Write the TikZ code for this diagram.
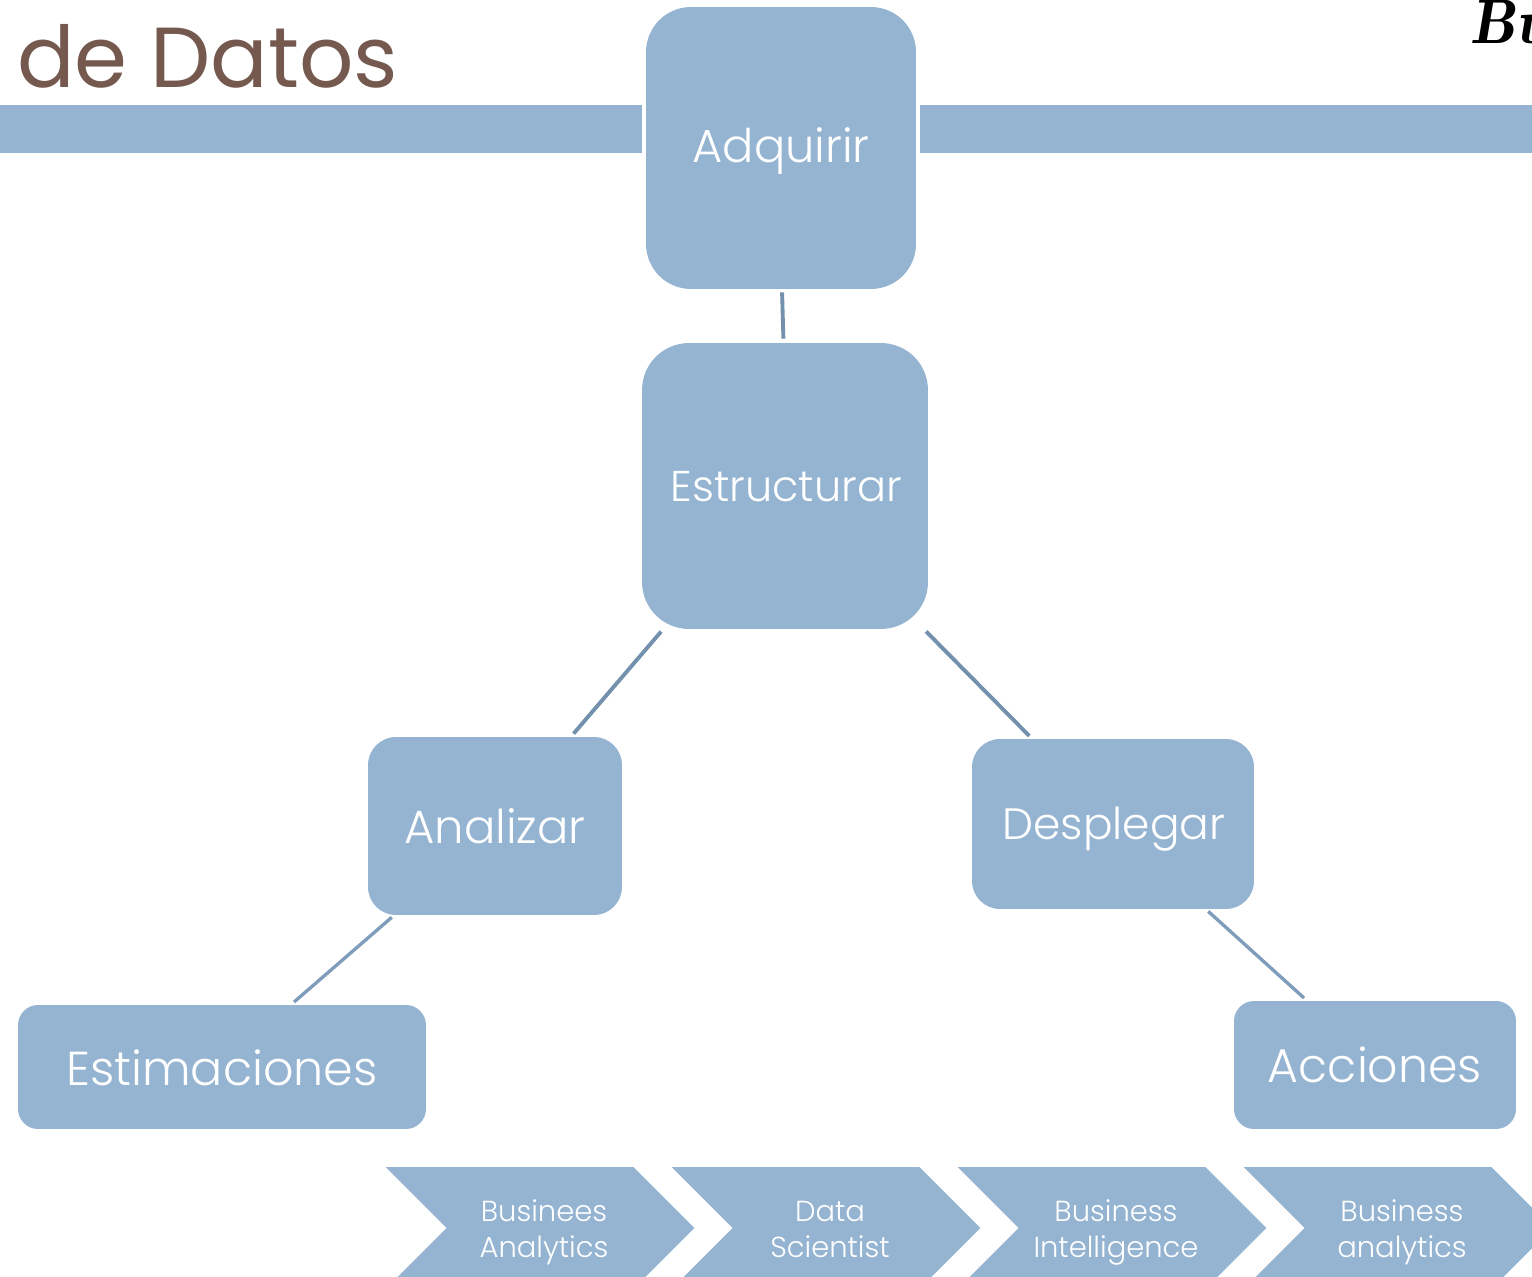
\documentclass[tikz,border=0pt]{standalone}
\usepackage{fontspec}
\setmainfont{Poppins}[UprightFont=* Light]
\newfontfamily\titlefont{Poppins}
\usepackage{xcolor}
\usetikzlibrary{shapes.symbols}
\definecolor{boxblue}{HTML}{95B4D2}
\definecolor{linkdark}{HTML}{7390AC}
\definecolor{linklight}{HTML}{7F9DBB}
\definecolor{titlebrown}{HTML}{75594E}
\tikzset{
  box/.style={fill=boxblue, text=white, inner sep=0pt, text depth=0pt},
  bar/.style={fill=boxblue, inner sep=0pt, minimum height=0.96cm},
  chevron/.style={signal, signal from=west, signal to=east, signal pointer angle=90, fill=boxblue, inner sep=0pt, minimum width=6.18cm, minimum height=2.44cm},
  chevlabel/.style={text=white, inner sep=0pt, align=center, xshift=0.08cm, text height=1.16cm, text depth=0pt, font=\fontsize{16.5}{20.4}\selectfont},
  link/.style={draw=linkdark, line width=2.2pt, shorten >=0.08cm, shorten <=0.06cm},
  linksoft/.style={draw=linklight, line width=1.9pt, shorten >=0.08cm, shorten <=0.06cm}
}
\begin{document}
\begin{tikzpicture}[x=0.02cm, y=-0.02cm]
  \clip (0,0) rectangle (1532,1277);
  \node[bar, minimum width=12.84cm] (barL) at (321,129) {};
  \node[bar, minimum width=12.24cm] (barR) at (1226,129) {};
  \node[text=titlebrown, anchor=base west, inner sep=0pt, font=\titlefont\fontsize{48.5}{58}\selectfont] (title) at (17,88) {de Datos};
  \node[anchor=base west, inner sep=0pt, font=\fontfamily{lmr}\fontsize{36}{40}\selectfont\bfseries\itshape] (brand) at (1470,44) {Bu};
  \node[box, rounded corners=0.9cm, minimum width=5.4cm, minimum height=5.64cm, text height=0.58cm, font=\fontsize{26.4}{32}\selectfont] (adquirir) at (781,148) {Adquirir};
  \node[box, rounded corners=0.94cm, minimum width=5.72cm, minimum height=5.72cm, text height=0.64cm, font=\fontsize{24.5}{32}\selectfont] (estructurar) at (785,486) {\hspace*{0.05cm}Estructurar};
  \node[box, rounded corners=0.56cm, minimum width=5.08cm, minimum height=3.56cm, text height=0.68cm, font=\fontsize{26.5}{32}\selectfont] (analizar) at (495,826) {Analizar};
  \node[box, rounded corners=0.56cm, minimum width=5.64cm, minimum height=3.4cm, text height=0.62cm, font=\fontsize{25}{32}\selectfont] (desplegar) at (1113,824) {\hspace*{0.04cm}Desplegar};
  \node[box, rounded corners=0.4cm, minimum width=8.16cm, minimum height=2.48cm, text height=0.72cm, font=\fontsize{27.1}{36}\selectfont] (estimaciones) at (222,1067) {Estimaciones};
  \node[box, rounded corners=0.4cm, minimum width=5.64cm, minimum height=2.56cm, text height=0.68cm, font=\fontsize{27}{36}\selectfont] (acciones) at (1375,1065) {Acciones};
  \draw[link] ([xshift=0.02cm]adquirir.south) -- ([xshift=-0.03cm]estructurar.north);
  \draw[link] ([xshift=-2.44cm]estructurar.south) -- ([xshift=1.52cm]analizar.north);
  \draw[link] ([xshift=2.78cm]estructurar.south) -- ([xshift=-1.62cm]desplegar.north);
  \draw[linksoft] ([xshift=-2.02cm]analizar.south) -- ([xshift=1.38cm]estimaciones.north);
  \draw[linksoft] ([xshift=1.86cm]desplegar.south) -- ([xshift=-1.36cm]acciones.north);
  \node[chevron] (chevA) at (540,1228) {};
  \node[chevron] (chevB) at (826,1228) {};
  \node[chevron] (chevC) at (1112,1228) {};
  \node[chevron] (chevD) at (1398,1228) {};
  \node[chevlabel] (labA) at (chevA.center) {Businees\\Analytics};
  \node[chevlabel] (labB) at (chevB.center) {Data\\Scientist};
  \node[chevlabel] (labC) at (chevC.center) {Business\\Intelligence};
  \node[chevlabel] (labD) at (chevD.center) {Business\\analytics};
\end{tikzpicture}
\end{document}
